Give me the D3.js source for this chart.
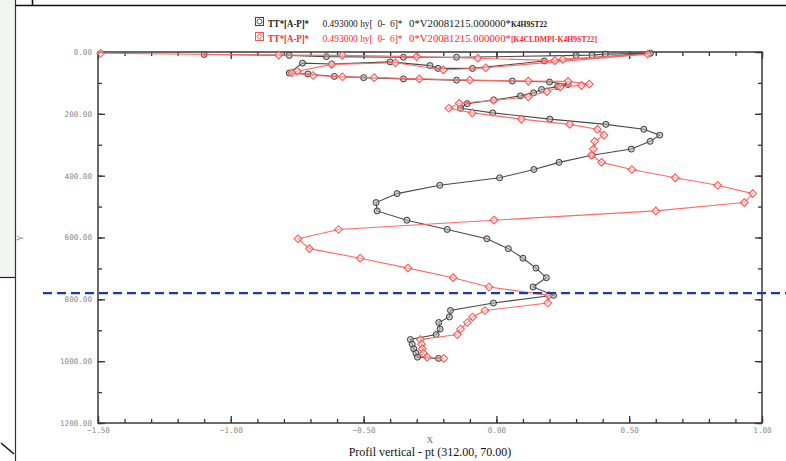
<!DOCTYPE html>
<html><head><meta charset="utf-8">
<script src="https://cdn.jsdelivr.net/npm/d3@7"></script>
<style>
body{margin:0;background:#fff}
svg{display:block}
text{white-space:pre}
</style>
</head><body>
<svg id="chart" width="786" height="461"></svg>
<script>
// Vertical profile of TT*[A-P]* at grid point (312, 70): depth (Y) against value (X)
const blackDepth = [8,11,15,17,17,11,10,7,4, 29,53,53,44,32,39,36, 68,71,79,83,87,91,94,97,105,112,121,132,142,155,167,
  182,197,217,234,250,269,289,314,334,357,380,407,431,458,487,514,544,574,604,636,667,699,730,760,787,812,836,857,875,896,914,930,945,960,974,987,991];
const blackX = [-1.10,-0.78,-0.64,-0.35,-0.15,0.30,0.36,0.41,0.58, 0.18,-0.09,-0.22,-0.25,-0.40,-0.62,-0.73, -0.78,-0.71,-0.61,-0.50,-0.35,-0.15,0.06,0.20,0.27,0.23,0.17,0.14,0.09,-0.01,-0.11,
  -0.135,-0.014,0.201,0.412,0.555,0.615,0.579,0.508,0.359,0.236,0.141,0.012,-0.213,-0.374,-0.453,-0.449,-0.337,-0.185,-0.036,0.045,0.100,0.149,0.188,0.138,0.215,-0.011,-0.173,-0.177,-0.217,-0.212,-0.227,-0.324,-0.317,-0.311,-0.303,-0.297,-0.218];

const redDepth = [4,10,11,15,20,28,24,7, 51,58,35,40, 62,67,76,80,83,87,91,94,95,104,108,113,128,145,157,166,
  182,197,217,234,250,269,289,314,334,357,380,407,431,458,487,514,544,574,604,636,667,699,730,760,787,812,836,857,875,896,914,930,945,960,974,987,991];
const redX = [-1.49,-0.82,-0.58,-0.30,-0.07,0.22,0.25,0.57, -0.04,-0.20,-0.38,-0.62, -0.75,-0.77,-0.69,-0.58,-0.46,-0.29,-0.10,0.12,0.27,0.35,0.32,0.24,0.19,0.12,-0.01,-0.14,
  -0.179,-0.091,0.094,0.276,0.380,0.405,0.370,0.365,0.358,0.396,0.510,0.673,0.833,0.965,0.933,0.600,-0.009,-0.594,-0.747,-0.704,-0.513,-0.333,-0.163,-0.028,0.197,0.193,-0.043,-0.090,-0.109,-0.135,-0.147,-0.286,-0.282,-0.279,-0.275,-0.261,-0.198];

const xMajorTicks = [-1.5,-1.0,-0.5,0,0.5,1.0];
const yMajorTicks = [0,200,400,600,800,1000,1200];
const referenceDepth = 780;

const legendBlack = {name:"TT*[A-P]*", info:"0.493000 hy[  0-  6]*", run:"0*V20081215.000000*", exp:"K4H9ST22"};
const legendRed = {name:"TT*[A-P]*", info:"0.493000 hy[  0-  6]*", run:"0*V20081215.000000*", exp:"[K4CLDMPI-K4H9ST22]"};
const title = "Profil vertical - pt (312.00, 70.00)";

const svg = d3.select("#chart");
const L = 98, R = 762, T = 52, B = 423;
const x = d3.scaleLinear().domain([-1.5, 1.0]).range([L, R]);
const y = d3.scaleLinear().domain([0, 1200]).range([T, B]);

const BLACK_LINE = "#4a4a4a", RED_LINE = "#ff6a6a";

// window frame pieces
svg.append("rect").attr("x",0).attr("y",0).attr("width",15).attr("height",277).attr("fill","#f2f5f2");
svg.append("line").attr("x1",15.5).attr("x2",15.5).attr("y1",0).attr("y2",461).attr("stroke","#333").attr("stroke-width",1.2);
svg.append("line").attr("x1",0).attr("x2",15).attr("y1",277.5).attr("y2",277.5).attr("stroke","#222").attr("stroke-width",1.2);
svg.append("line").attr("x1",15).attr("x2",786).attr("y1",5.5).attr("y2",5.5).attr("stroke","#111").attr("stroke-width",1.6);
svg.append("line").attr("x1",32.5).attr("x2",32.5).attr("y1",0).attr("y2",5).attr("stroke","#111").attr("stroke-width",1.6);
svg.append("line").attr("x1",1).attr("x2",14).attr("y1",443).attr("y2",454).attr("stroke","#111").attr("stroke-width",1.5);

// axes (ticks point inward)
const fmt = d3.format(".2f");
const axisStyle = g => { g.select(".domain").remove(); g.selectAll("line").attr("stroke","#333").attr("stroke-width",1.3);
  g.selectAll("text").attr("fill","#888").attr("font-family","DejaVu Sans Mono").attr("font-size",7.6); };
const xMinor = d3.range(-15, 11).map(v => v/10);
const yMinor = d3.range(0, 13).map(v => v*100);

svg.append("g").attr("transform",`translate(0,${B})`)
  .call(d3.axisBottom(x).tickValues(xMinor).tickSize(-4).tickFormat("")).call(axisStyle);
svg.append("g").attr("transform",`translate(0,${B})`)
  .call(d3.axisBottom(x).tickValues(xMajorTicks).tickSize(-7).tickPadding(5).tickFormat(fmt)).call(axisStyle);
svg.append("g").attr("transform",`translate(0,${T})`)
  .call(d3.axisTop(x).tickValues(xMinor).tickSize(-4).tickFormat("")).call(axisStyle);
svg.append("g").attr("transform",`translate(0,${T})`)
  .call(d3.axisTop(x).tickValues(xMajorTicks).tickSize(-7).tickFormat("")).call(axisStyle);
svg.append("g").attr("transform",`translate(${L},0)`)
  .call(d3.axisLeft(y).tickValues(yMinor).tickSize(-4).tickFormat("")).call(axisStyle);
svg.append("g").attr("transform",`translate(${L},0)`)
  .call(d3.axisLeft(y).tickValues(yMajorTicks).tickSize(-7).tickPadding(6).tickFormat(fmt)).call(axisStyle);
svg.append("g").attr("transform",`translate(${R},0)`)
  .call(d3.axisRight(y).tickValues(yMinor).tickSize(-4).tickFormat("")).call(axisStyle);
svg.append("g").attr("transform",`translate(${R},0)`)
  .call(d3.axisRight(y).tickValues(yMajorTicks).tickSize(-7).tickFormat("")).call(axisStyle);

svg.append("rect").attr("x",L).attr("y",T).attr("width",R-L).attr("height",B-T)
  .attr("fill","none").attr("stroke","#3a3a3a").attr("stroke-width",1.5);

// axis titles
svg.append("text").attr("x",430).attr("y",443).attr("text-anchor","middle")
  .attr("font-family","Liberation Serif").attr("font-size",9).attr("fill","#666").text("X");
svg.append("text").attr("transform","translate(23,238) rotate(-90)").attr("text-anchor","middle")
  .attr("font-family","Liberation Serif").attr("font-size",8).attr("fill","#777").text("Y");
svg.append("text").attr("x",430).attr("y",456).attr("text-anchor","middle")
  .attr("font-family","Liberation Serif").attr("font-size",12).attr("fill","#111").text(title);

// profiles
const line = d3.line().x(d => x(d[0])).y(d => y(d[1]));
const blackPts = blackX.map((v,i) => [v, blackDepth[i]]);
const redPts = redX.map((v,i) => [v, redDepth[i]]);

svg.append("path").datum(blackPts).attr("d",line).attr("fill","none").attr("stroke",BLACK_LINE).attr("stroke-width",1.1);
svg.append("g").selectAll("circle").data(blackPts).join("circle")
  .attr("cx",d => x(d[0])).attr("cy",d => y(d[1])).attr("r",3)
  .attr("fill","#b0b0b0").attr("fill-opacity",0.6).attr("stroke","#3c3c3c").attr("stroke-width",1);

svg.append("path").datum(redPts).attr("d",line).attr("fill","none").attr("stroke",RED_LINE).attr("stroke-width",1.1);
const diamond = d3.symbol(d3.symbolSquare, 30)();
svg.append("g").selectAll("path").data(redPts).join("path")
  .attr("d",diamond).attr("transform",d => `translate(${x(d[0])},${y(d[1])}) rotate(45)`)
  .attr("fill","#ffe0e0").attr("fill-opacity",0.5).attr("stroke","#ff5050").attr("stroke-width",1);

// reference depth line
svg.append("line").attr("x1",43).attr("x2",786).attr("y1",y(referenceDepth)).attr("y2",y(referenceDepth))
  .attr("stroke","#1d3f9a").attr("stroke-width",2.4).attr("stroke-dasharray","9,5");

// legend
function legendRow(entry, yBase, color, isRed){
  const g = svg.append("g");
  g.append("rect").attr("x",255.5).attr("y",yBase-9.5).attr("width",8).attr("height",8)
    .attr("fill","none").attr("stroke",isRed ? "#ff5050" : "#444").attr("stroke-width",1);
  if (isRed) {
    g.append("path").attr("d",d3.symbol(d3.symbolSquare,14)()).attr("transform",`translate(259.5,${yBase-5.5}) rotate(45)`)
      .attr("fill","none").attr("stroke","#ff5050").attr("stroke-width",0.9);
  } else {
    g.append("circle").attr("cx",259.5).attr("cy",yBase-5.5).attr("r",2.5).attr("fill","none").attr("stroke","#444").attr("stroke-width",0.9);
  }
  const font = "Liberation Serif";
  g.append("text").attr("x",268).attr("y",yBase).attr("font-family",font).attr("font-size",9.5).attr("font-weight","bold")
    .attr("fill",color).attr("textLength",41).attr("lengthAdjust","spacingAndGlyphs").text(entry.name);
  g.append("text").attr("x",322.5).attr("y",yBase).attr("font-family",font).attr("font-size",9.5)
    .attr("fill",color).attr("textLength",80).attr("lengthAdjust","spacingAndGlyphs").text(entry.info);
  g.append("text").attr("x",409).attr("y",yBase).attr("font-family",font).attr("font-size",9.5)
    .attr("fill",color).attr("textLength",102).attr("lengthAdjust","spacingAndGlyphs").text(entry.run);
  g.append("text").attr("x",511).attr("y",yBase).attr("font-family",font).attr("font-size",8.6).attr("font-weight","bold")
    .attr("fill",color).attr("textLength",isRed ? 86 : 36).attr("lengthAdjust","spacingAndGlyphs").text(entry.exp);
}
legendRow(legendBlack, 27, "#222", false);
legendRow(legendRed, 42, "#ff2a2a", true);
</script>
</body></html>
